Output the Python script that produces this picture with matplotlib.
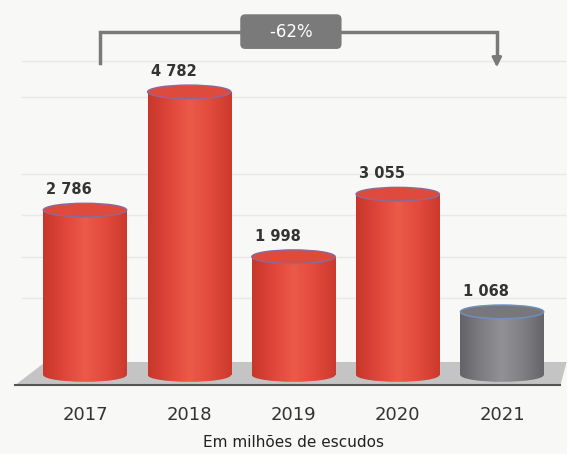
"""
Cylinder bar chart: values in milhões de escudos, 2017-2021
"""

import matplotlib.pyplot as plt
import numpy as np
from matplotlib.colors import LinearSegmentedColormap
from matplotlib.patches import Ellipse, Polygon, Rectangle

years = ["2017", "2018", "2019", "2020", "2021"]
values = [2786, 4782, 1998, 3055, 1068]
value_labels = ["2 786", "4 782", "1 998", "3 055", "1 068"]
change_label = "-62%"
subtitle = "Em milhões de escudos"

RED = LinearSegmentedColormap.from_list(
    "red", ["#c8362a", "#e0463a", "#ec5a48", "#e24a3c", "#cc3a2e"])
GREY = LinearSegmentedColormap.from_list(
    "grey", ["#646468", "#7e7e82", "#929296", "#808084", "#66666a"])

WIDTH = 0.8
ELL_H = 230


def cylinder(ax, x, h, cmap, top_color, edge):
    left = x - WIDTH / 2
    body = Rectangle((left, 0), WIDTH, h, facecolor="none", edgecolor="none")
    bottom = Ellipse((x, 0), WIDTH, ELL_H, facecolor="none", edgecolor="none")
    ax.add_patch(body)
    ax.add_patch(bottom)
    grad = np.linspace(0, 1, 64).reshape(1, -1)
    for clip in (body, bottom):
        im = ax.imshow(grad, cmap=cmap, aspect="auto", zorder=3,
                       extent=[left, left + WIDTH, -ELL_H / 2, h])
        im.set_clip_path(clip)
    ax.add_patch(Ellipse((x, h), WIDTH, ELL_H, facecolor=top_color,
                         edgecolor=edge, lw=1.0, zorder=4))


def main():
    fig = plt.figure(figsize=(5.67, 4.54), dpi=100)
    fig.patch.set_facecolor("#f8f8f6")
    ax = fig.add_axes([0, 0, 1, 1])
    ax.set_facecolor("#f8f8f6")
    ax.set_xlim(-0.815, 4.623)
    ax.set_ylim(-1334, 6334)
    ax.axis("off")

    # faint background lines
    for gy in [1300, 2000, 2700, 3400, 4700, 5300]:
        ax.plot([-0.6, 4.6], [gy, gy], color="#e8e8e8", lw=1.0, zorder=0)

    # floor
    ax.add_patch(Polygon([(-0.67, -170), (4.56, -170), (4.62, 220), (-0.38, 220)],
                         closed=True, facecolor="#c4c4c4", edgecolor="none",
                         zorder=1))
    ax.plot([-0.67, 4.56], [-170, -170], color="#555555", lw=1.5, zorder=2)

    for i, (v, lab) in enumerate(zip(values, value_labels)):
        if i == len(values) - 1:
            cylinder(ax, i, v, GREY, "#78787c", "#7090c0")
        else:
            cylinder(ax, i, v, RED, "#de4a3c", "#8a6a9a")
        ax.text(i - 0.15, v + 220, lab, ha="center", va="bottom",
                fontsize=10.5, color="#333333", fontweight="bold", zorder=5)
        ax.text(i, -520, years[i], ha="center", va="top", fontsize=13,
                color="#333333", zorder=5)

    ax.text(2, -1020, subtitle, ha="center", va="top", fontsize=11,
            color="#222222")

    # change bracket from first to last year
    top = 5800
    x0, x1 = 0.14, 3.95
    ax.plot([x0, x0, x1, x1], [5270, top, top, 5380], color="#7a7a7a",
            lw=2.5, solid_joinstyle="miter", zorder=5)
    ax.annotate("", xy=(x1, 5150), xytext=(x1, 5420),
                arrowprops=dict(arrowstyle="-|>", color="#7a7a7a", lw=2,
                                mutation_scale=14), zorder=5)
    ax.text(1.975, top, "    " + change_label + "    ", ha="center",
            va="center", fontsize=12, color="white", zorder=7,
            bbox=dict(boxstyle="round,pad=0.5,rounding_size=0.3",
                      facecolor="#7a7a7a", edgecolor="none"))

    fig.savefig("out.png", dpi=100, facecolor=fig.get_facecolor())
    plt.close(fig)


if __name__ == "__main__":
    main()
